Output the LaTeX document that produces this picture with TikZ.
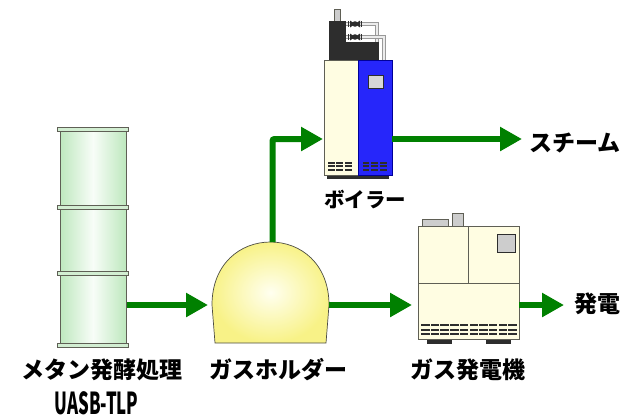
\documentclass[tikz,border=0pt]{standalone}
\usepackage{fontspec}
\newfontfamily\jp{Noto Sans CJK JP}
\usetikzlibrary{arrows.meta}

\definecolor{flowgreen}{RGB}{0,128,0}
\definecolor{cream}{RGB}{255,253,226}
\definecolor{boilerblue}{RGB}{38,38,250}
\definecolor{darkpart}{RGB}{45,45,45}
\definecolor{partgray}{RGB}{205,205,205}
\definecolor{edgegray}{RGB}{95,95,85}
\definecolor{tankside}{RGB}{190,232,190}
\definecolor{tankmid}{RGB}{248,253,248}
\definecolor{bandgreen}{RGB}{210,238,210}
\definecolor{domein}{RGB}{255,255,240}
\definecolor{domeout}{RGB}{248,242,135}

\tikzset{
  flow/.style={draw=flowgreen, line width=6pt,
    -{Triangle[length=22pt,width=23pt]}},
  label/.style={inner sep=0pt, font=\jp\bfseries\fontsize{23}{27}\selectfont},
  smalllabel/.style={inner sep=0pt, font=\jp\bfseries\fontsize{20.5}{24}\selectfont},
  outline/.style={draw=edgegray, line width=0.8pt},
  vent/.style={fill=darkpart},
  pipe/.style={line width=3.8pt, draw=gray!80},
  pipecore/.style={line width=2pt, draw=gray!15},
}

\begin{document}
\begin{tikzpicture}[x=1pt,y=-1pt]
\useasboundingbox (0,0) rectangle (628,418);

% ---------- methane fermentation tank ----------
\shade[left color=tankside, right color=tankside, middle color=tankmid]
  (60,130) rectangle (126,345);
\draw[outline] (60,130) rectangle (126,345);
\foreach \yy in {127,205,271,343}
  \draw[outline, fill=bandgreen] (57,\yy) rectangle (128,\yy+4.5);
\coordinate (tankOut) at (127,305);

% ---------- gas holder ----------
\shade[inner color=domein, outer color=domeout]
  (215,343) -- (212,305) .. controls (212,264) and (240,242) .. (270.5,242)
  .. controls (301,242) and (329,264) .. (329,305) -- (326,343) -- cycle;
\draw[draw=edgegray!80!black, line width=0.7pt]
  (215,343) -- (212,305) .. controls (212,264) and (240,242) .. (270.5,242)
  .. controls (301,242) and (329,264) .. (329,305) -- (326,343) -- cycle;
\coordinate (holderIn) at (208,305);
\coordinate (holderTop) at (272.5,242);
\coordinate (holderOut) at (329,305);

% ---------- boiler ----------
% stack and upper housing
\draw[outline, fill=partgray] (334,9) rectangle (340,21);
\fill[darkpart] (329,21) rectangle (346,60);
\fill[darkpart] (346,42) rectangle (379,60);
% steam pipes
\draw[pipe] (346,24) -- (377,24) -- (377,42);
\draw[pipecore] (346,24) -- (377,24) -- (377,42);
\draw[pipe] (346,37) -- (384,37) -- (384,60);
\draw[pipecore] (346,37) -- (384,37) -- (384,60);
% valves
\foreach \yy in {24,37} {
  \fill[darkpart] (350,\yy-3.5) -- (360,\yy+3.5) -- (360,\yy-3.5) -- (350,\yy+3.5) -- cycle;
  \fill[darkpart] (355,\yy) circle (2.8);
  \draw[darkpart, line width=0.6pt] (348.5,\yy-3) -- (348.5,\yy+3);
  \draw[darkpart, line width=0.6pt] (361.5,\yy-3) -- (361.5,\yy+3);
}
% base and casing
\fill[darkpart] (327,175) rectangle (389,179);
\draw[outline, fill=cream] (324,60) rectangle (358,175);
\draw[draw=blue!60!black, line width=0.8pt, fill=boilerblue] (358,60) rectangle (392,175);
\draw[draw=darkpart, line width=0.8pt, fill=partgray!80] (368,75) rectangle (383,88);
% louvres
\foreach \yy in {161.5,165.2,168.9} {
  \foreach \xa/\xb in {328/334.5,336/342.5,344.5/352, 363/369,371/377.5,380/387}
    \fill[darkpart] (\xa,\yy) rectangle (\xb,\yy+2);
}
\coordinate (boilerIn) at (323,139);
\coordinate (boilerOut) at (392,139);
\coordinate (steamEnd) at (522,139);

% ---------- gas generator ----------
\draw[outline, fill=partgray] (422,219) rectangle (448,226);
\draw[outline, fill=partgray] (452,213) rectangle (463,226);
\fill[darkpart] (427,339) rectangle (452,343.5);
\fill[darkpart] (486,339) rectangle (511,343.5);
\draw[outline, fill=cream] (418,226) rectangle (519,339);
\draw[outline] (418,283) -- (519,283);
\draw[outline] (468,226) -- (468,283);
\draw[draw=darkpart, line width=0.8pt, fill=partgray] (497,234) rectangle (515,252);
\foreach \yy in {324,328.5,333} {
  \foreach \i in {0,...,9}
    \fill[darkpart] (421+9.7*\i,\yy) rectangle (429.5+9.7*\i,\yy+2.4);
}
\coordinate (genIn) at (412,305);
\coordinate (genOut) at (519,305);
\coordinate (powerEnd) at (564,305);

% ---------- flows ----------
\draw[flow] (tankOut) -- (holderIn);
\draw[flow, rounded corners=2pt] (holderTop) |- (boilerIn);
\draw[flow] (holderOut) -- (genIn);
\draw[flow] (boilerOut) -- (steamEnd);
\draw[flow] (genOut) -- (powerEnd);

% ---------- labels ----------
\node[label] (lblTank) at (102,370) {メタン発酵処理};
\node[inner sep=0pt] (lblUasb) at (96.5,403.5)
  {\scalebox{0.6}[1.08]{\jp\bfseries\fontsize{28}{30}\selectfont UASB-TLP}};
\node[label] (lblHolder) at (278,370) {ガスホルダー};
\node[smalllabel] (lblBoiler) at (365,199) {ボイラー};
\node[label] (lblSteam) at (575,143) {スチーム};
\node[label] (lblGen) at (468,370) {ガス発電機};
\node[label] (lblPower) at (597,304) {発電};
\end{tikzpicture}
\end{document}
